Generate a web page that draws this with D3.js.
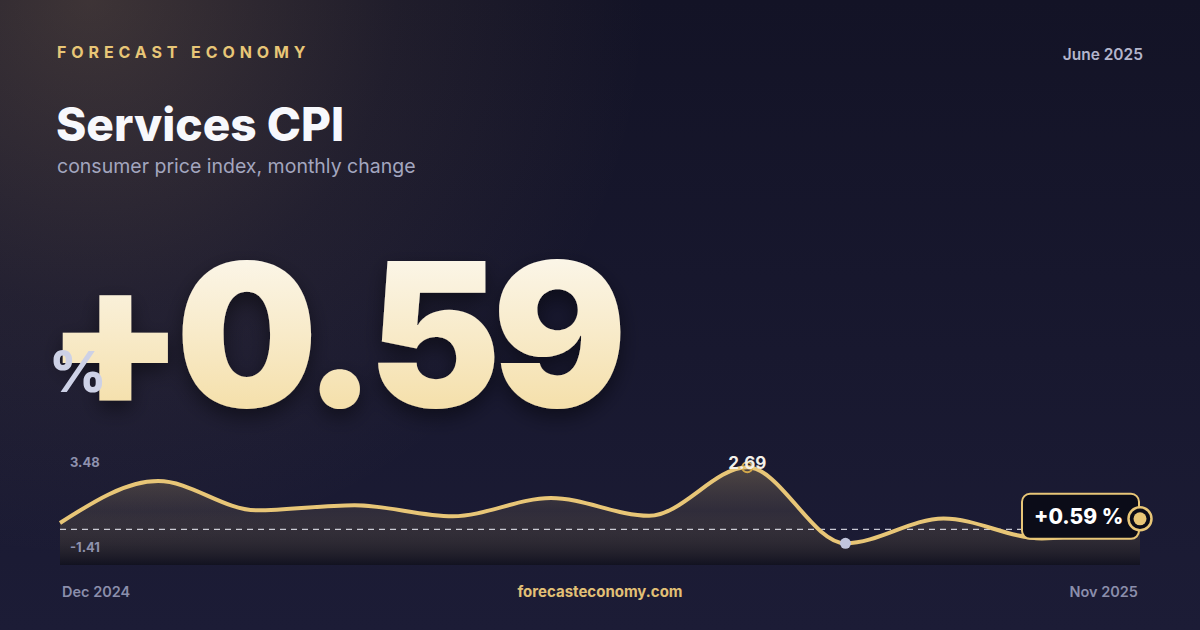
<!DOCTYPE html>
<html>
<head>
<meta charset="utf-8">
<script src="https://cdn.jsdelivr.net/npm/d3@7"></script>
<style>
  html, body { margin: 0; padding: 0; background: #15152b; }
  svg { display: block; font-family: Inter, "Noto Sans", sans-serif; }
</style>
</head>
<body>
<div id="canvas"></div>
<script>
// monthly change, Dec 2024 .. Nov 2025
const months = ["Dec 2024", "Jan 2025", "Feb 2025", "Mar 2025", "Apr 2025", "May 2025",
    "Jun 2025", "Jul 2025", "Aug 2025", "Sep 2025", "Oct 2025", "Nov 2025"];
const values = [0.28, 2.09, 0.83, 1.05, 0.57, 1.36, 0.59, 2.69, -0.60, 0.47, -0.39, 0.59];
const yTicks = [-1.41, 3.48];
const latest = 0.59;

const width = 1200;
const height = 630;
const gold = "#e8c677";

const svg = d3.select("#canvas").append("svg")
    .attr("width", width)
    .attr("height", height);

const defs = svg.append("defs");

const bg = defs.append("linearGradient").attr("id", "bg").attr("x1", 0).attr("y1", 0).attr("x2", 0).attr("y2", 1);
bg.append("stop").attr("offset", "0%").attr("stop-color", "#131326");
bg.append("stop").attr("offset", "100%").attr("stop-color", "#1c1c36");

const glow = defs.append("radialGradient").attr("id", "glow")
    .attr("gradientUnits", "userSpaceOnUse")
    .attr("cx", 90).attr("cy", 0).attr("r", 560);
glow.append("stop").attr("offset", "0%").attr("stop-color", "#e8b877").attr("stop-opacity", 0.2);
glow.append("stop").attr("offset", "55%").attr("stop-color", "#e8b877").attr("stop-opacity", 0.06);
glow.append("stop").attr("offset", "100%").attr("stop-color", "#e8b877").attr("stop-opacity", 0);

const big = defs.append("linearGradient").attr("id", "big").attr("x1", 0).attr("y1", 0).attr("x2", 0).attr("y2", 1);
big.append("stop").attr("offset", "0%").attr("stop-color", "#fdfcfa");
big.append("stop").attr("offset", "100%").attr("stop-color", "#f3d998");

const shadow = defs.append("filter").attr("id", "shadow")
    .attr("x", "-10%").attr("y", "-10%").attr("width", "120%").attr("height", "130%");
shadow.append("feDropShadow").attr("dx", 0).attr("dy", 8).attr("stdDeviation", 10)
    .attr("flood-color", "#000").attr("flood-opacity", 0.45);

svg.append("rect").attr("width", width).attr("height", height).attr("fill", "url(#bg)");
svg.append("rect").attr("width", width).attr("height", height).attr("fill", "url(#glow)");

// header
svg.append("text")
    .attr("x", 57).attr("y", 58)
    .attr("fill", gold)
    .style("font-size", "16px").style("font-weight", 700).style("letter-spacing", "4.9px")
    .text("FORECAST ECONOMY");

svg.append("text")
    .attr("x", 1143).attr("y", 60)
    .attr("text-anchor", "end")
    .attr("fill", "#b3b5cc")
    .style("font-size", "15.5px").style("font-weight", 600)
    .text("June 2025");

svg.append("text")
    .attr("x", 56).attr("y", 141)
    .attr("fill", "#f7f8fc")
    .style("font-size", "46px").style("font-weight", 800)
    .text("Services CPI");

svg.append("text")
    .attr("x", 57).attr("y", 173)
    .attr("fill", "#a3a6bf")
    .style("font-size", "19.5px").style("font-weight", 400)
    .text("consumer price index, monthly change");

// headline number
svg.append("text")
    .attr("x", 46).attr("y", 407)
    .attr("fill", "url(#big)")
    .attr("filter", "url(#shadow)")
    .style("font-size", "200px").style("font-weight", 900).style("letter-spacing", "-9px")
    .text((latest >= 0 ? "+" : "") + latest.toFixed(2));

svg.append("text")
    .attr("x", 49).attr("y", 392)
    .attr("fill", "#cdd1e6")
    .style("font-size", "56px").style("font-weight", 800)
    .text("%");

// chart
const chartLeft = 60, chartRight = 1140, chartBottom = 565;

const x = d3.scalePoint()
    .domain(months)
    .range([chartLeft, chartRight]);

const y = d3.scaleLinear()
    .domain(d3.extent(yTicks))
    .range([562, 449]);

const areaFill = defs.append("linearGradient").attr("id", "areaFill")
    .attr("gradientUnits", "userSpaceOnUse")
    .attr("x1", 0).attr("y1", y(d3.max(values))).attr("x2", 0).attr("y2", chartBottom);
areaFill.append("stop").attr("offset", "0%").attr("stop-color", gold).attr("stop-opacity", 0.26);
areaFill.append("stop").attr("offset", "45%").attr("stop-color", "#a08a60").attr("stop-opacity", 0.16);
areaFill.append("stop").attr("offset", "100%").attr("stop-color", "#0a0a10").attr("stop-opacity", 0.55);

const series = months.map((m, i) => ({ month: m, value: values[i] }));

const area = d3.area()
    .x(d => x(d.month))
    .y0(chartBottom)
    .y1(d => y(d.value))
    .curve(d3.curveMonotoneX);

const line = d3.line()
    .x(d => x(d.month))
    .y(d => y(d.value))
    .curve(d3.curveMonotoneX);

const g = svg.append("g");

g.append("path")
    .datum(series)
    .attr("d", area)
    .attr("fill", "url(#areaFill)");

g.append("line")
    .attr("x1", chartLeft).attr("x2", chartRight)
    .attr("y1", y(0)).attr("y2", y(0))
    .attr("stroke", "#e6e6f0").attr("stroke-opacity", 0.85)
    .attr("stroke-width", 1.2)
    .attr("stroke-dasharray", "6,5");

g.append("path")
    .datum(series)
    .attr("d", line)
    .attr("fill", "none")
    .attr("stroke", gold)
    .attr("stroke-width", 4)
    .attr("stroke-linejoin", "round");

g.selectAll(".ytick")
    .data(yTicks)
    .enter().append("text")
    .attr("class", "ytick")
    .attr("x", 70)
    .attr("y", d => d === d3.max(yTicks) ? 467 : 552)
    .attr("fill", "#8f92ae")
    .style("font-size", "13px").style("font-weight", 700)
    .text(d => d.toFixed(2));

// max and min markers
const maxPt = series.reduce((a, b) => b.value > a.value ? b : a);
const minPt = series.reduce((a, b) => b.value < a.value ? b : a);

g.append("circle")
    .attr("cx", x(maxPt.month)).attr("cy", y(maxPt.value))
    .attr("r", 5)
    .attr("fill", "none").attr("stroke", "#d4a94a").attr("stroke-width", 2);

g.append("text")
    .attr("x", x(maxPt.month)).attr("y", y(maxPt.value) + 2)
    .attr("text-anchor", "middle")
    .attr("fill", "#f4f1ea")
    .style("font-size", "17px").style("font-weight", 700)
    .text(maxPt.value.toFixed(2));

g.append("circle")
    .attr("cx", x(minPt.month)).attr("cy", y(minPt.value))
    .attr("r", 5.5)
    .attr("fill", "#c1c5dd");

// latest value callout
const last = series[series.length - 1];
const lx = x(last.month), ly = y(last.value);

g.append("rect")
    .attr("x", lx - 118).attr("y", ly - 22)
    .attr("width", 117).attr("height", 45)
    .attr("rx", 8)
    .attr("fill", "#0b0c18")
    .attr("stroke", gold).attr("stroke-width", 2);

g.append("text")
    .attr("x", lx - 106).attr("y", ly + 8)
    .attr("fill", "#ffffff")
    .style("font-size", "21px").style("font-weight", 800)
    .text((last.value >= 0 ? "+" : "") + last.value.toFixed(2) + " %");

g.append("circle")
    .attr("cx", lx).attr("cy", ly + 3)
    .attr("r", 11.5)
    .attr("fill", "#0b0c18")
    .attr("stroke", gold).attr("stroke-width", 2.5);

g.append("circle")
    .attr("cx", lx).attr("cy", ly + 3)
    .attr("r", 6.5)
    .attr("fill", gold);

// footer
svg.append("text")
    .attr("x", 62).attr("y", 597)
    .attr("fill", "#8b8eab")
    .style("font-size", "14.5px").style("font-weight", 600)
    .text(months[0]);

svg.append("text")
    .attr("x", 1138).attr("y", 597)
    .attr("text-anchor", "end")
    .attr("fill", "#8b8eab")
    .style("font-size", "14.5px").style("font-weight", 600)
    .text(months[months.length - 1]);

svg.append("text")
    .attr("x", 600).attr("y", 597)
    .attr("text-anchor", "middle")
    .attr("fill", "#e2c076")
    .style("font-size", "15px").style("font-weight", 700)
    .text("forecasteconomy.com");
</script>
</body>
</html>
